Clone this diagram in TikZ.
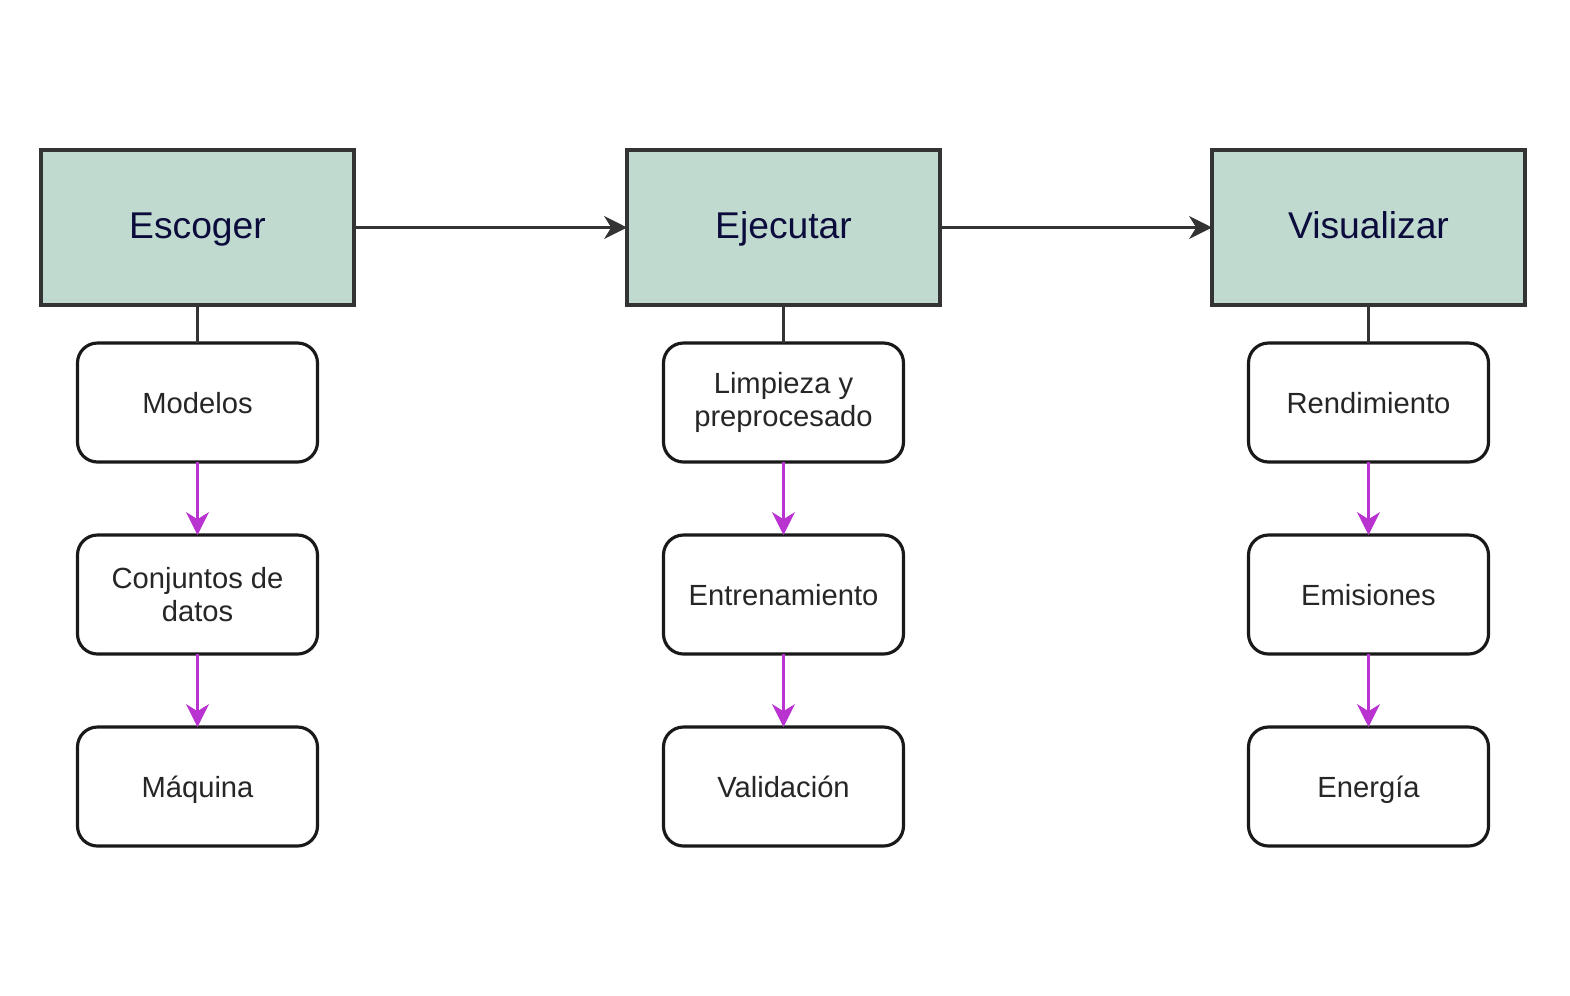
\documentclass[tikz,border=0pt]{standalone}
\usepackage{fontspec}
\setmainfont{Liberation Sans}
\usetikzlibrary{arrows.meta}
\usetikzlibrary{positioning}

\definecolor{etapa}{HTML}{C0DAD0}
\definecolor{tinta}{HTML}{0C0C3C}
\definecolor{linea}{HTML}{333333}
\definecolor{morado}{HTML}{B833D0}

\begin{document}
\begin{tikzpicture}[very thick,
	etapa/.style={draw=linea, fill=etapa, line width=1.1pt, outer sep=0pt, minimum width=3.13cm, minimum height=1.55cm, text=tinta, text height=1.6ex, text depth=0.45ex, font=\fontsize{10.6}{13}\selectfont},
	tarea/.style={draw=black!90, rounded corners=0.2cm, line width=0.9pt, outer sep=0pt, minimum width=2.4cm, minimum height=1.19cm, text=black!85, align=center, text height=1.6ex, text depth=0.45ex, font=\fontsize{8.3}{9.4}\selectfont},
	doble/.style={text height={}, text depth={}},
	flujo/.style={-{Stealth[length=6.5pt, width=6.5pt, inset=2pt]}, draw=linea, line width=0.75pt},
	sigue/.style={-{Stealth[length=6.5pt, width=6.5pt, inset=2pt]}, draw=morado, line width=0.75pt}]
	\useasboundingbox (0,0) rectangle (15.7,-9.95);

	\node[etapa] (escoger) at (1.975,-2.275) {Escoger};
	\node[etapa] (ejecutar) [right = 2.73cm of escoger] {Ejecutar};
	\node[etapa] (visualizar) [right = 2.72cm of ejecutar] {Visualizar};

	\node[tarea] (modelos) [below = 0.38cm of escoger] {Modelos};
	\node[tarea, doble] (datos) [below = 0.73cm of modelos] {Conjuntos de\\datos};
	\node[tarea] (maquina) [below = 0.73cm of datos] {Máquina};

	\node[tarea, doble] (limpieza) [below = 0.38cm of ejecutar] {Limpieza y\\preprocesado};
	\node[tarea] (entreno) [below = 0.73cm of limpieza] {Entrenamiento};
	\node[tarea] (validacion) [below = 0.73cm of entreno] {Validación};

	\node[tarea] (rendimiento) [below = 0.38cm of visualizar] {Rendimiento};
	\node[tarea] (emisiones) [below = 0.73cm of rendimiento] {Emisiones};
	\node[tarea] (energia) [below = 0.73cm of emisiones] {Energía};

	\draw[flujo] (escoger) -- (ejecutar);
	\draw[flujo] (ejecutar) -- (visualizar);

	\draw[linea, line width=0.75pt] (escoger) -- (modelos);
	\draw[linea, line width=0.75pt] (ejecutar) -- (limpieza);
	\draw[linea, line width=0.75pt] (visualizar) -- (rendimiento);

	\draw[sigue] (modelos) -- (datos);
	\draw[sigue] (datos) -- (maquina);
	\draw[sigue] (limpieza) -- (entreno);
	\draw[sigue] (entreno) -- (validacion);
	\draw[sigue] (rendimiento) -- (emisiones);
	\draw[sigue] (emisiones) -- (energia);
\end{tikzpicture}
\end{document}
